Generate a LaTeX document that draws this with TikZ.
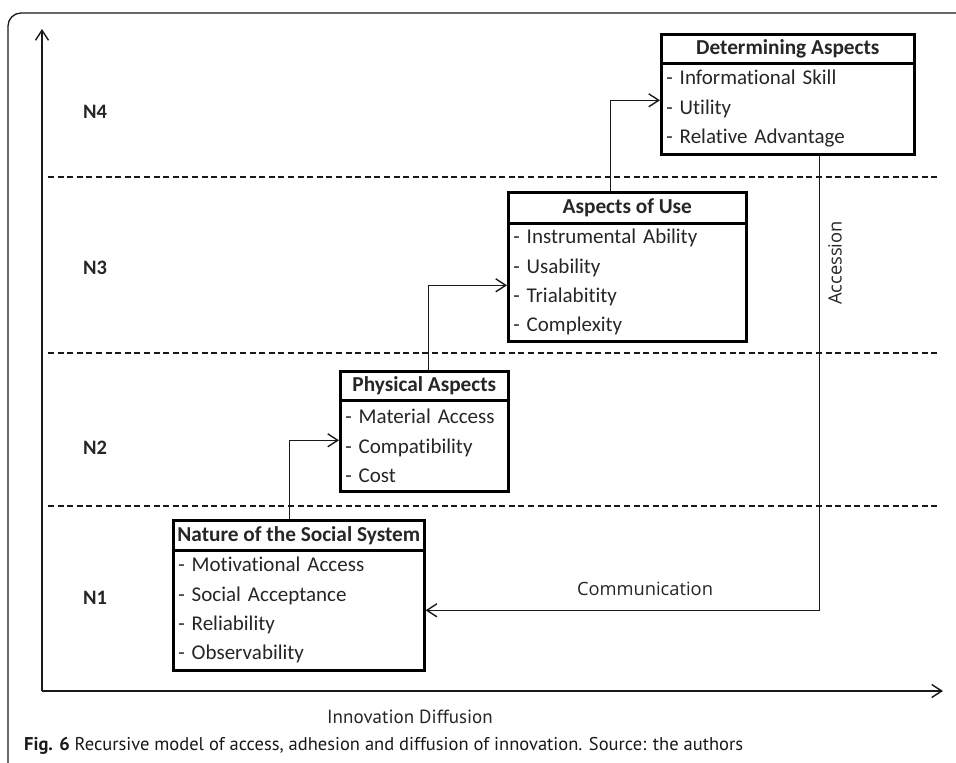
\documentclass[tikz,border=0pt]{standalone}
\usepackage{fontspec}
\setmainfont{Carlito}[Ligatures=NoCommon]
\newfontfamily\labelfont{Open Sans}
\newfontfamily\capfont{PT Sans}
\usetikzlibrary{arrows.meta}

\tikzset{
  boxline/.style={draw=black, line width=2.6pt},
  hdr/.style={boxline, anchor=north west, inner sep=0pt,
    font=\fontsize{21.3}{25}\selectfont\bfseries, text=black!85},
  bodybox/.style={boxline, anchor=north west, inner xsep=5pt, inner ysep=0pt,
    align=left, font=\fontsize{21}{29.3}\selectfont, text=black!85},
  conn/.style={draw=black!90, line width=1.4pt,
    -{Straight Barb[length=10pt, width=13pt, line width=1.4pt]}},
  axis/.style={draw=black!90, line width=1.4pt,
    -{Straight Barb[length=10pt, width=13pt, line width=1.4pt]}},
  levelsep/.style={draw=black!90, line width=1.4pt, dash pattern=on 6pt off 3.6pt},
  level/.style={font=\fontsize{20.5}{24}\selectfont\bfseries, text=black!85},
  lbl/.style={font=\labelfont\fontsize{18.3}{22}\selectfont, text=black!85},
  axislbl/.style={font=\capfont\fontsize{19}{22}\selectfont, text=black!85},
}

\begin{document}
\begin{tikzpicture}[x=1pt, y=-1pt]
\useasboundingbox (0,0) rectangle (956,763);
\fill[white] (0,0) rectangle (956,763);

% outer frame (top and left edges, rounded corner)
\begin{scope}
  \clip (0,0) rectangle (956,763);
  \draw[black!90, line width=1.3pt, rounded corners=13pt] (8,790) -- (8,13) -- (990,13);
\end{scope}

% axes
\coordinate (origin) at (42,691);
\coordinate (ytip) at (42,29);
\coordinate (xtip) at (943,691);
\draw[axis] (origin) -- (ytip);
\draw[axis] (origin) -- (xtip);

% level separators
\draw[levelsep] (48,177) -- (940,177);
\draw[levelsep] (48,353) -- (940,353);
\draw[levelsep] (48,506) -- (940,506);

% level names
\node[level] (n4) at (95,112) {N4};
\node[level] (n3) at (95,268) {N3};
\node[level] (n2) at (95,448) {N2};
\node[level] (n1) at (95,598) {N1};

% Determining Aspects
\node[hdr, minimum width=253pt, minimum height=29pt] (detH) at (660,33) {Determining Aspects};
\node[bodybox, minimum width=253pt, minimum height=91pt, text width=243pt] (detB) at (660,62)
  {- Informational Skill\\- Utility\\- Relative Advantage};

% Aspects of Use
\node[hdr, minimum width=238pt, minimum height=31pt] (useH) at (507,191) {Aspects of Use};
\node[bodybox, minimum width=238pt, minimum height=118pt, text width=228pt] (useB) at (507,222)
  {- Instrumental Ability\\- Usability\\- Trialabitity\\- Complexity};

% Physical Aspects
\node[hdr, minimum width=168pt, minimum height=29pt] (phyH) at (339,370) {Physical Aspects};
\node[bodybox, minimum width=168pt, minimum height=91pt, text width=158pt] (phyB) at (339,399)
  {- Material Access\\- Compatibility\\- Cost};

% Nature of the Social System
\node[hdr, minimum width=251pt, minimum height=30pt] (natH) at (172,519) {Nature of the Social System};
\node[bodybox, minimum width=251pt, minimum height=120pt, text width=241pt] (natB) at (172,549)
  {- Motivational Access\\- Social Acceptance\\- Reliability\\- Observability};

% step-up connectors
\draw[conn] ([xshift=-9.5pt]natH.north) |- ([yshift=5.5pt]phyB.west);
\draw[conn] ([xshift=4pt]phyH.north) |- ([yshift=-3pt]useB.west);
\draw[conn] ([xshift=-17pt]useH.north) |- ([yshift=8.5pt]detB.west);

% feedback loop
\draw[conn] ([xshift=31.5pt]detB.south) |- (natB.east);
\node[lbl] (comm) at (645,589) {Communication};
\node[lbl, rotate=90] (acc) at (835,263) {Accession};

% axis label
\node[axislbl] (xlab) at (410,717) {Innovation Diffusion};

% caption
\node[anchor=west, inner sep=0pt, text=black!90,
  font=\capfont\fontsize{18.5}{22}\selectfont] (cap) at (24,746)
  {\textbf{Fig. 6} Recursive model of access, adhesion and diffusion of innovation. Source: the authors};
\end{tikzpicture}
\end{document}
